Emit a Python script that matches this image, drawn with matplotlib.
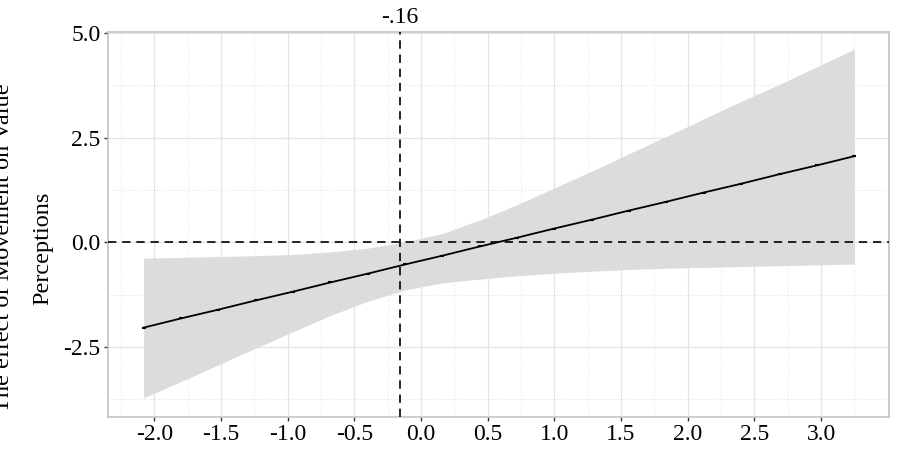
import matplotlib
matplotlib.use("Agg")
import matplotlib.pyplot as plt
from matplotlib.ticker import MultipleLocator, FormatStrFormatter

plt.rcParams['font.family'] = ['Liberation Serif', 'DejaVu Serif']
plt.rcParams['axes.unicode_minus'] = False

# moderator values where the effect was evaluated
mod_x = [-2.08, -1.80, -1.52, -1.24, -0.96, -0.68, -0.40, -0.12, 0.16, 0.44,
         0.72, 1.00, 1.28, 1.56, 1.84, 2.12, 2.40, 2.69, 2.97, 3.25]
# marginal effect and its confidence band
effect = [-2.04, -1.82, -1.61, -1.39, -1.18, -0.96, -0.75, -0.53, -0.32, -0.10,
          0.11, 0.33, 0.54, 0.76, 0.97, 1.19, 1.40, 1.63, 1.84, 2.06]
upper = [-0.38, -0.36, -0.34, -0.32, -0.29, -0.23, -0.14, 0.01, 0.21, 0.53,
         0.90, 1.30, 1.70, 2.12, 2.53, 2.95, 3.37, 3.78, 4.20, 4.62]
lower = [-3.72, -3.33, -2.93, -2.53, -2.14, -1.75, -1.41, -1.14, -0.97, -0.88,
         -0.80, -0.74, -0.69, -0.65, -0.62, -0.60, -0.58, -0.56, -0.54, -0.52]

jn_point = -0.16
jn_label = "-.16"
x_ticks = [-2.0, -1.5, -1.0, -0.5, 0.0, 0.5, 1.0, 1.5, 2.0, 2.5, 3.0]
y_ticks = [-2.5, 0.0, 2.5, 5.0]
ylab_1 = "The effect of Movement on Value"
ylab_2 = "Perceptions"

fig = plt.figure(figsize=(8.98, 4.5), dpi=100)
ax = fig.add_axes([0.1206, 0.074, 0.8694, 0.855])

ax.fill_between(mod_x, lower, upper, color='#dcdcdc', linewidth=0, zorder=2)
ax.plot(mod_x, effect, color='black', linewidth=1.3, zorder=4)
ax.plot(mod_x, effect, linestyle='none', marker='_', markersize=3,
        markeredgewidth=1.5, color='black', zorder=4)

ax.axhline(0, color='black', linestyle=(0, (5, 3.5)), linewidth=1.2, zorder=5)
ax.axvline(jn_point, color='black', linestyle=(0, (5, 3.5)), linewidth=1.2, zorder=5)

ax.set_xlim(-2.345, 3.51)
ax.set_ylim(-4.17, 5.03)
ax.set_xticks(x_ticks)
ax.set_yticks(y_ticks)
ax.xaxis.set_major_formatter(FormatStrFormatter('%.1f'))
ax.yaxis.set_major_formatter(FormatStrFormatter('%.1f'))
ax.xaxis.set_minor_locator(MultipleLocator(0.25))
ax.yaxis.set_minor_locator(MultipleLocator(1.25))

ax.grid(which='major', color='#e4e4e4', linewidth=0.9, zorder=0)
ax.grid(which='minor', color='#dedede', linewidth=0.6, linestyle=':', zorder=0)
ax.set_axisbelow(True)

for s in ax.spines.values():
    s.set_color('#c4c4c4')
    s.set_linewidth(1.2)

ax.tick_params(which='major', length=3, width=1, color='#333333',
               labelsize=17, labelcolor='black', pad=2.5)
ax.tick_params(which='minor', length=0)

# label of the Johnson-Neyman point above the panel
ax.text(jn_point, 1.01, jn_label, transform=ax.get_xaxis_transform(),
        ha='center', va='bottom', fontsize=17)

# y title: first line runs off the left edge as in the original
fig.text(0.004, 0.449, ylab_1, rotation=90, ha='center', va='center', fontsize=17.5)
fig.text(0.048, 0.449, ylab_2, rotation=90, ha='center', va='center', fontsize=17.5)

fig.savefig('out.png', dpi=100, facecolor='white')
